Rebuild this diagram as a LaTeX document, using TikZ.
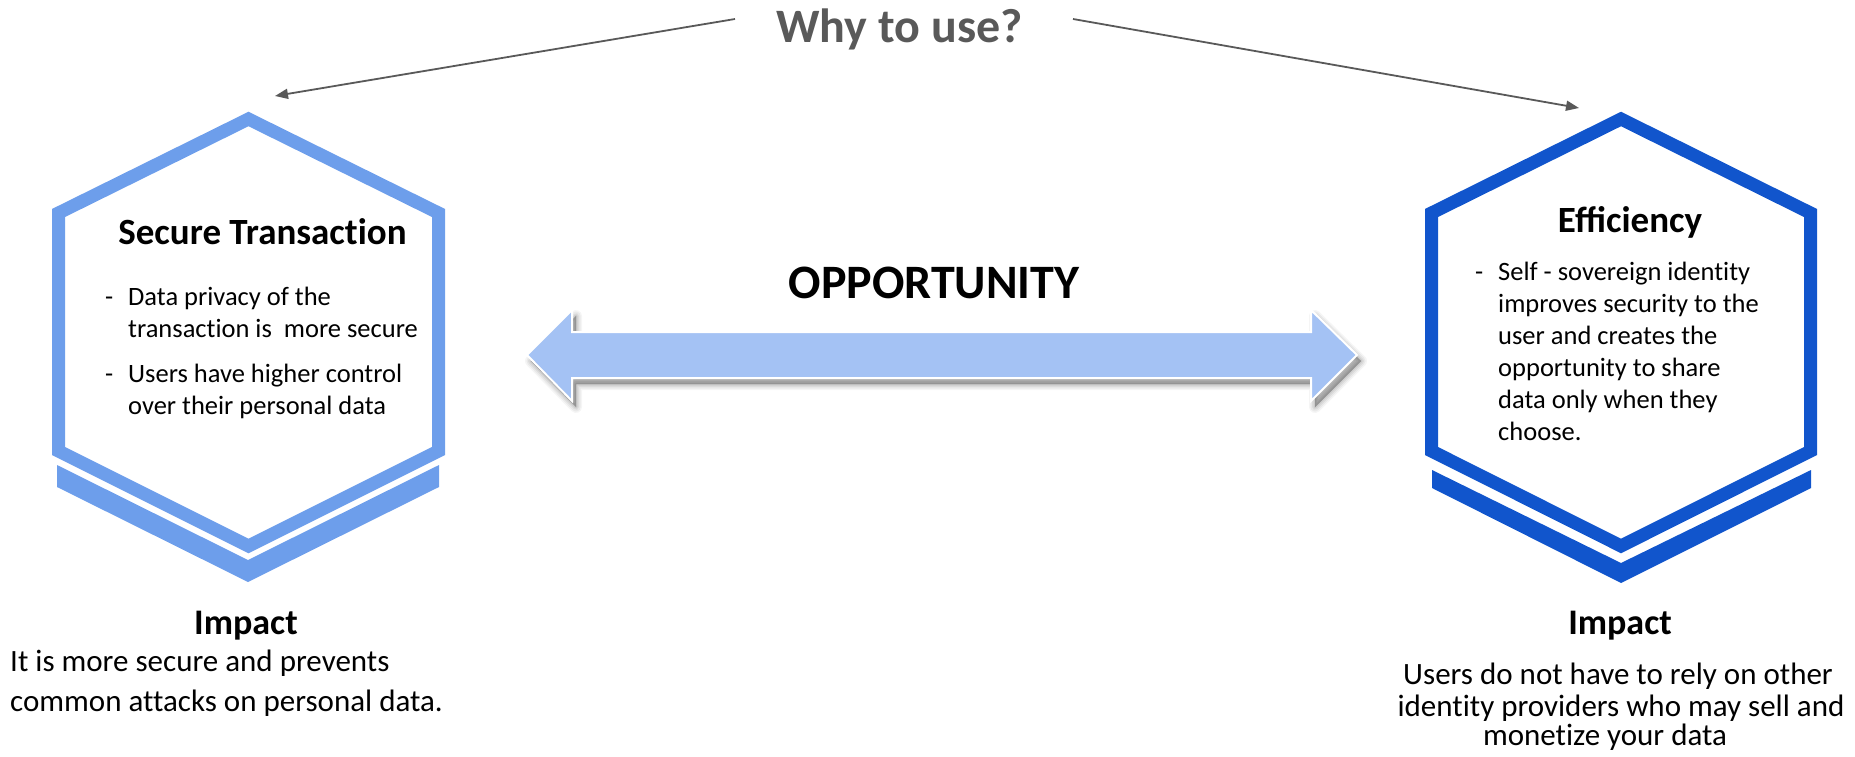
\documentclass[tikz,border=0pt]{standalone}
\usepackage{fontspec}
\setmainfont{Carlito}[Ligatures=NoCommon]
\newfontfamily\ligfont{Carlito}
\usetikzlibrary{arrows.meta}
\definecolor{lblue}{HTML}{6D9EEB}
\definecolor{dblue}{HTML}{1155CC}
\definecolor{arrfill}{HTML}{A4C2F4}
\definecolor{tgray}{HTML}{595959}
\tikzset{
  hexline/.style={line width=13pt, line join=miter},
  headtxt/.style={font=\fontsize{37}{44}\selectfont\bfseries, inner sep=0pt, anchor=base},
  bodytxt/.style={font=\fontsize{26.5}{32}\selectfont, inner sep=0pt, anchor=base west},
  imphead/.style={font=\fontsize{36}{42}\selectfont\bfseries, inner sep=0pt, anchor=base},
  imptxt/.style={font=\fontsize{31}{38}\selectfont, inner sep=0pt},
  bigtxt/.style={font=\fontsize{48}{56}\selectfont\bfseries, inner sep=0pt, anchor=base},
  garrow/.style={tgray, line width=1.8pt, -{Triangle[length=13pt,width=10pt]}},
  arrowshape/.style={insert path={(527,355) -- (572,310) -- (572,332) -- (1311,332) -- (1311,310) -- (1357,355) -- (1311,401) -- (1311,378) -- (572,378) -- (572,401) -- cycle}},
}
\begin{document}
\begin{tikzpicture}[x=1pt,y=-1pt]
\useasboundingbox (0,0) rectangle (1855,757);

% title and arrows
\node[bigtxt, text=tgray] (why) at (899.5,43) {Why to use?};
\coordinate (wl) at (735,19);
\coordinate (tl) at (275,96);
\coordinate (wr) at (1073,19);
\coordinate (tr) at (1579,108);
\draw[garrow] (wl) -- (tl);
\draw[garrow] (wr) -- (tr);

% left hexagon
\draw[hexline, lblue] (248.5,119) -- (438.5,213) -- (438.5,451) -- (248.5,546) -- (58.5,451) -- (58.5,213) -- cycle;
\fill[lblue] (57,465) -- (248,560) -- (439,465) -- (439,487) -- (248,582) -- (57,487) -- cycle;
\node[headtxt] (st) at (262.5,244) {Secure Transaction};
\node[bodytxt] (d1) at (105,305) {-};
\node[bodytxt] (l1) at (128,305) {Data privacy of the};
\node[bodytxt] (l2) at (128,337) {transaction is\ \ more secure};
\node[bodytxt] (d2) at (105,382) {-};
\node[bodytxt] (l3) at (128,382) {Users have higher control};
\node[bodytxt] (l4) at (128,414) {over their personal data};

% right hexagon
\draw[hexline, dblue] (1621,119) -- (1810.5,213) -- (1810.5,451) -- (1621,546) -- (1431.5,451) -- (1431.5,213) -- cycle;
\fill[dblue] (1432,470) -- (1621,563) -- (1811,470) -- (1811,488) -- (1621,583) -- (1432,488) -- cycle;
\node[headtxt] (ef) at (1630,232) {\ligfont\bfseries Efficiency};
\node[bodytxt] (d3) at (1475,280) {-};
\node[bodytxt] (r1) at (1498,280) {Self - sovereign identity};
\node[bodytxt] (r2) at (1498,312) {improves security to the};
\node[bodytxt] (r3) at (1498,344) {user and creates the};
\node[bodytxt] (r4) at (1498,376) {opportunity to share};
\node[bodytxt] (r5) at (1498,408) {data only when they};
\node[bodytxt] (r6) at (1498,440) {choose.};

% double arrow with soft shadow
\foreach \w/\o in {12/0.04,9/0.05,6/0.06,3/0.07,0.5/0.08}{
  \filldraw[black, opacity=\o, line width=\w pt, line join=round, shift={(4,6)}] [arrowshape];
}
\filldraw[fill=arrfill, draw=white, line width=2pt, line join=miter] [arrowshape];
\node[bigtxt] (opp) at (934,298) {OPPORTUNITY};

% impacts
\node[imphead] (i1) at (246,634) {Impact};
\node[imptxt, anchor=base west] (i1a) at (10,671) {It is more secure and prevents};
\node[imptxt, anchor=base west] (i1b) at (10,711) {common attacks on personal data.};
\node[imphead] (i2) at (1620,634) {Impact};
\node[imptxt, anchor=base] (i2a) at (1618,684) {Users do not have to rely on other};
\node[imptxt, anchor=base] (i2b) at (1621,716) {identity providers who may sell and};
\node[imptxt, anchor=base] (i2c) at (1605,745) {monetize your data};
\end{tikzpicture}
\end{document}
